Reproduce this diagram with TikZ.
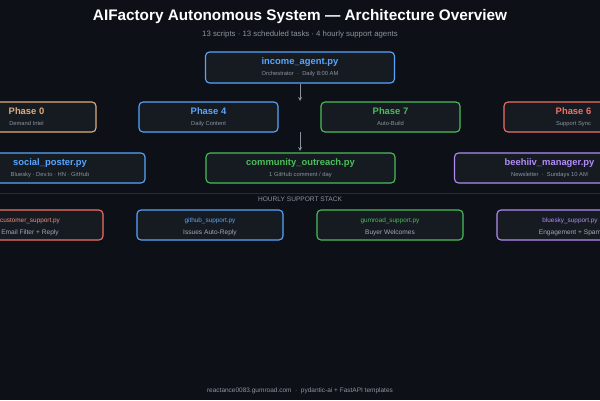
\documentclass[tikz,border=0pt]{standalone}
\usepackage{fontspec}
\setmainfont{Liberation Sans}
\usetikzlibrary{shapes,arrows,positioning,calc}
\definecolor{bgdark}{RGB}{13,17,23}
\definecolor{boxfill}{RGB}{22,27,34}
\definecolor{rulegray}{RGB}{40,45,52}
\definecolor{textgray}{RGB}{139,148,158}
\definecolor{agentblue}{RGB}{88,166,255}
\definecolor{agentgreen}{RGB}{74,190,90}
\definecolor{agentred}{RGB}{240,112,102}
\definecolor{agenttan}{RGB}{222,172,124}
\definecolor{agentpurple}{RGB}{178,140,245}

\newcommand{\boxtitle}[2]{{\fontsize{9.4}{11}\selectfont\bfseries\color{#1}#2}}
\newcommand{\boxsub}[1]{{\fontsize{5.8}{11}\selectfont\color{textgray}#1}}
\newcommand{\supptitle}[2]{{\fontsize{6.4}{12}\selectfont\color{#1}\rule{0pt}{9pt}#2}}
\newcommand{\suppsub}[1]{{\fontsize{6.6}{12}\selectfont\color{textgray!80!white}#1}}

\begin{document}
\begin{tikzpicture}[x=1pt,y=-1pt,
	box/.style={draw, rounded corners=4pt, fill=boxfill, line width=1.1pt, align=center, inner sep=0pt, font=\fontsize{6}{11}\selectfont},
	phasebox/.style={box, minimum width=139pt, minimum height=30pt},
	scriptbox/.style={box, minimum width=190pt, minimum height=30pt},
	suppbox/.style={box, minimum width=146pt, minimum height=30pt, font=\fontsize{6}{12}\selectfont},
	flow/.style={draw=textgray, line width=0.8pt, -stealth}]
	% Background
	\fill[bgdark] (0,0) rectangle (600,400);
	\useasboundingbox (0,0) rectangle (600,400);
	\clip (0,0) rectangle (600,400);
	
	% Title and subtitle
	\node[text=white, font=\fontsize{15.3}{18}\selectfont\bfseries] (title) at (300,17) {AIFactory Autonomous System — Architecture Overview};
	\node[text=textgray, font=\fontsize{7.8}{9}\selectfont] (subtitle) at (300,34) {13 scripts · 13 scheduled tasks · 4 hourly support agents};
	
	% Draw orchestrator
	\node[box, draw=agentblue, minimum width=189pt, minimum height=31pt] (income) at (300,67.5)
		{\boxtitle{agentblue}{income\_agent.py}\\\boxsub{Orchestrator \ · \ Daily 8:00 AM}};
	
	% Draw phase row
	\node[phasebox, draw=agenttan] (phase0) at (26.5,117) {\boxtitle{agenttan}{Phase 0}\\\boxsub{Demand Intel}};
	\node[phasebox, draw=agentblue] (phase4) at (208.5,117) {\boxtitle{agentblue}{Phase 4}\\\boxsub{Daily Content}};
	\node[phasebox, draw=agentgreen] (phase7) at (390.5,117) {\boxtitle{agentgreen}{Phase 7}\\\boxsub{Auto-Build}};
	\node[phasebox, draw=agentred] (phase6) at (573.5,117) {\boxtitle{agentred}{Phase 6}\\\boxsub{Support Sync}};
	
	% Draw script row
	\node[scriptbox, draw=agentblue] (social) at (50,168) {\boxtitle{agentblue}{social\_poster.py}\\\boxsub{Bluesky · Dev.to · HN · GitHub}};
	\node[scriptbox, draw=agentgreen, minimum width=189pt] (outreach) at (300.5,168) {\boxtitle{agentgreen}{community\_outreach.py}\\\boxsub{1 GitHub comment / day}};
	\node[scriptbox, draw=agentpurple] (beehiiv) at (549.5,168) {\boxtitle{agentpurple}{beehiiv\_manager.py}\\\boxsub{Newsletter \ · \ Sundays 10 AM}};
	
	% Draw connections
	\coordinate (flowA) at (300,101);
	\coordinate (flowB) at (300,132);
	\coordinate (flowC) at (300,151);
	\draw[flow] (income.south) -- (flowA);
	\draw[flow] (flowB) -- (flowC);
	
	% Hourly support stack
	\draw[rulegray, line width=0.8pt] (0,193) -- (600,193);
	\node[text=textgray, font=\fontsize{6.6}{8}\selectfont] (stack) at (300,199.5) {HOURLY SUPPORT STACK};
	\node[suppbox, draw=agentred] (custsupp) at (30,225) {\supptitle{agentred!80!white}{customer\_support.py}\\\suppsub{Email Filter + Reply}};
	\node[suppbox, draw=agentblue] (ghsupp) at (210,225) {\supptitle{agentblue}{github\_support.py}\\\suppsub{Issues Auto-Reply}};
	\node[suppbox, draw=agentgreen] (gumsupp) at (390,225) {\supptitle{agentgreen}{gumroad\_support.py}\\\suppsub{Buyer Welcomes}};
	\node[suppbox, draw=agentpurple] (bskysupp) at (570,225) {\supptitle{agentpurple}{bluesky\_support.py}\\\suppsub{Engagement + Spam}};
	
	\node[text=textgray, font=\fontsize{6.5}{8}\selectfont] (footer) at (300,391) {reactance0083.gumroad.com \ · \ pydantic-ai + FastAPI templates};
\end{tikzpicture}
\end{document}
